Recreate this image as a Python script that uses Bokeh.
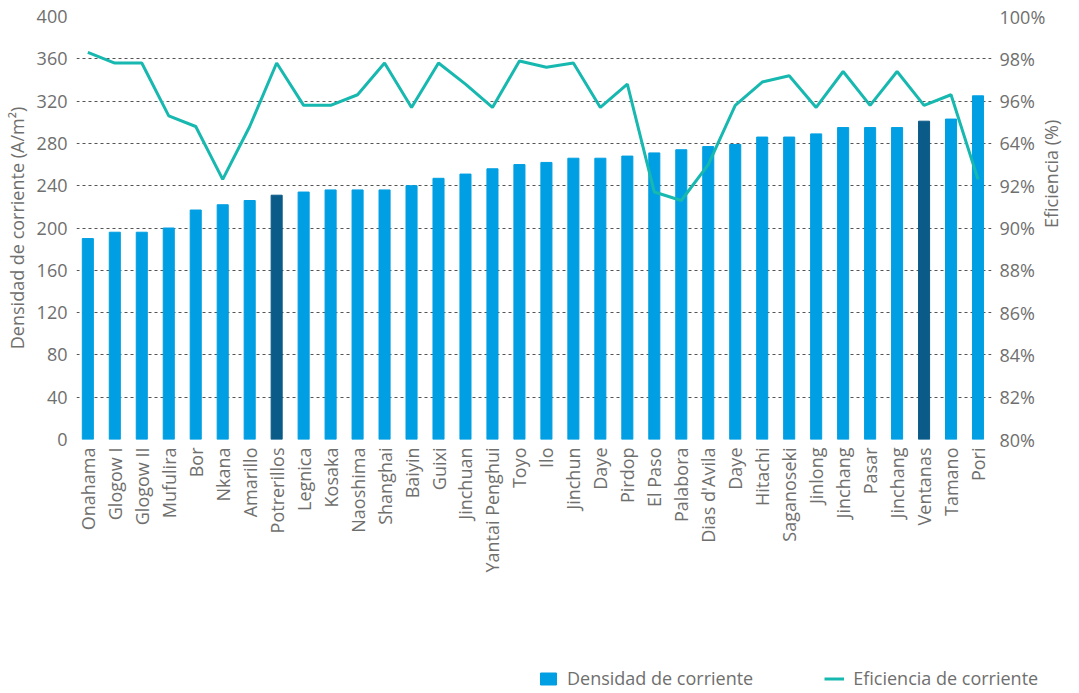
import math
from bokeh.plotting import figure
from bokeh.layouts import column
from bokeh.models import (Range1d, LinearAxis, FixedTicker, Legend, LegendItem,
                          ColumnDataSource)
from bokeh.embed import file_html
from bokeh.resources import INLINE

plants = ["Onahama", "Glogow I", "Glogow II", "Mufulira", "Bor", "Nkana", "Amarillo",
          "Potrerillos", "Legnica", "Kosaka", "Naoshima", "Shanghai", "Baiyin", "Guixi",
          "Jinchuan", "Yantai Penghui", "Toyo", "Ilo", "Jinchun", "Daye", "Pirdop",
          "El Paso", "Palabora", "Dias d'Avila", "Daye", "Hitachi", "Saganoseki",
          "Jinlong", "Jinchang", "Pasar", "Jinchang", "Ventanas", "Tamano", "Pori"]
densidad = [190, 196, 196, 200, 217, 222, 226, 231, 234, 236, 236, 236, 240, 247,
            251, 256, 260, 262, 266, 266, 268, 271, 274, 277, 279, 286, 286, 289,
            295, 295, 295, 301, 303, 325]
eficiencia = [98.3, 97.8, 97.8, 95.3, 94.8, 92.3, 94.8, 97.8, 95.8, 95.8, 96.3, 97.8,
              95.7, 97.8, 96.8, 95.7, 97.9, 97.6, 97.8, 95.7, 96.8, 91.7, 91.3, 93.0,
              95.8, 96.9, 97.2, 95.7, 97.4, 95.8, 97.4, 95.8, 96.3, 92.3]
highlight_idx = [7, 31]  # Potrerillos, Ventanas
left_ticks = [0, 40, 80, 120, 160, 200, 240, 280, 320, 360, 400]
right_ticks = [80, 82, 84, 86, 88, 90, 92, 94, 96, 98, 100]
right_labels = ["80%", "82%", "84%", "86%", "88%", "90%", "92%", "64%", "96%", "98%", "100%"]
legend_labels = ["Densidad de corriente", "Eficiencia de corriente"]

FONT = "Open Sans"
TXT = "#6f6f6e"
BLUE = "#009fe3"
DARK = "#0b5b88"
TEAL = "#17b8af"

xs = list(range(len(plants)))
colors = [DARK if i in highlight_idx else BLUE for i in xs]
src = ColumnDataSource(dict(x=xs, d=densidad, e=eficiencia, c=colors))

p = figure(width=1078, height=600, output_backend="svg", toolbar_location=None,
           x_range=Range1d(-0.42, 33.5), y_range=Range1d(0, 400),
           min_border_left=76, min_border_right=82, min_border_top=16,
           min_border_bottom=161)
p.outline_line_color = None
p.extra_y_ranges = {"eff": Range1d(80, 100)}

p.vbar(x="x", top="d", width=0.41, color="c", source=src)
p.line(x="x", y="e", y_range_name="eff", line_color=TEAL, line_width=3, source=src)

# grid
p.xgrid.grid_line_color = None
p.ygrid.ticker = FixedTicker(ticks=left_ticks)
p.ygrid.grid_line_color = "#555555"
p.ygrid.grid_line_dash = "3 3"
p.ygrid.grid_line_width = 1

# left axis
ya = p.yaxis[0]
ya.ticker = FixedTicker(ticks=left_ticks)
ya.axis_label = "Densidad de corriente (A/m²)"
ya.major_label_standoff = 9
ya.axis_label_standoff = 5

# right axis
ra = LinearAxis(y_range_name="eff", ticker=FixedTicker(ticks=right_ticks),
                axis_label="Eficiencia (%)")
ra.major_label_overrides = {t: l for t, l in zip(right_ticks, right_labels)}
ra.major_label_standoff = 8
ra.axis_label_standoff = 3
if hasattr(ra, "axis_label_orientation"):
    ra.axis_label_orientation = math.pi / 2
p.add_layout(ra, "right")

# bottom axis
xa = p.xaxis[0]
xa.ticker = FixedTicker(ticks=xs)
xa.major_label_overrides = {i: n for i, n in zip(xs, plants)}
xa.major_label_orientation = math.pi / 2
xa.major_label_standoff = 8

for ax in (ya, ra, xa):
    ax.axis_line_color = None
    ax.major_tick_line_color = None
    ax.minor_tick_line_color = None
    ax.major_tick_out = 0
    ax.major_tick_in = 0
    ax.minor_tick_out = 0
    ax.major_label_text_font = FONT
    ax.major_label_text_font_size = "18px"
    ax.major_label_text_color = TXT
    ax.axis_label_text_font = FONT
    ax.axis_label_text_font_size = "18px"
    ax.axis_label_text_color = TXT
    ax.axis_label_text_font_style = "normal"

# legend strip below the chart
lp = figure(width=1078, height=90, output_backend="svg", toolbar_location=None,
            x_range=Range1d(0, 1), y_range=Range1d(0, 1),
            x_axis_location=None, y_axis_location=None,
            min_border_left=0, min_border_right=0, min_border_top=0,
            min_border_bottom=0)
lp.outline_line_color = None
lp.grid.visible = False
for fig in (p, lp):
    if hasattr(fig, "frame_align"):
        fig.frame_align = False
rb = lp.vbar(x=[-5], top=[-5], width=0.1, color=BLUE)
rl = lp.line(x=[-5, -4], y=[-5, -5], line_color=TEAL, line_width=3)

legend = Legend(items=[LegendItem(label=legend_labels[0], renderers=[rb]),
                       LegendItem(label=legend_labels[1], renderers=[rl])],
                location=(538, 0), orientation="horizontal",
                padding=0, margin=0, spacing=71, border_line_color=None,
                background_fill_alpha=0, glyph_width=20, glyph_height=15,
                label_standoff=9, label_text_font=FONT, label_text_font_size="18px",
                label_text_color=TXT)
lp.add_layout(legend, "center")

open("out.html", "w").write(file_html(column(p, lp, spacing=0), INLINE))
